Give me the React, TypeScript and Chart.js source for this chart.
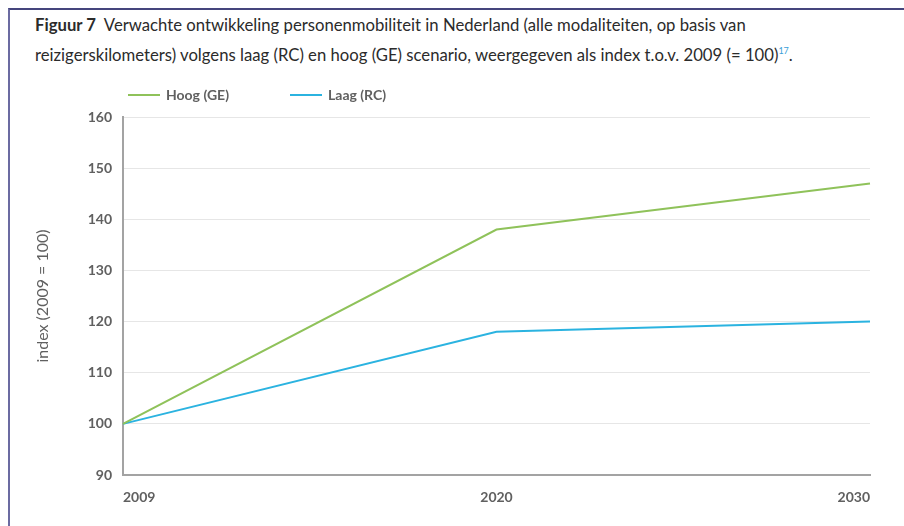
import React, { useEffect, useRef } from 'react';
import { Chart, registerables } from 'chart.js';

Chart.register(...registerables);

const years = ['2009', '2020', '2030'];
const hoogGE = [100, 138, 147];
const laagRC = [100, 118, 120];
const seriesLabels = ['Hoog (GE)', 'Laag (RC)'];
const yMin = 90;
const yMax = 160;
const yStep = 10;
const yTitle = 'index (2009 = 100)';

const GREEN = '#8fc25a';
const BLUE = '#2bb3e0';
const FONT = 'Lato, "Open Sans", sans-serif';
const TEXT_GREY = '#606060';

const legendPlugin = {
  id: 'lineLegend',
  afterDraw(chart: any) {
    const ctx = chart.ctx;
    const y = 25;
    ctx.save();
    ctx.font = 'bold 14px ' + FONT;
    ctx.textBaseline = 'middle';
    ctx.textAlign = 'left';
    chart.data.datasets.forEach((ds: any, i: number) => {
      const x0 = chart.chartArea.left + 5 + i * 162;
      ctx.strokeStyle = ds.borderColor;
      ctx.lineWidth = 2;
      ctx.beginPath();
      ctx.moveTo(x0, y);
      ctx.lineTo(x0 + 32, y);
      ctx.stroke();
      ctx.fillStyle = TEXT_GREY;
      ctx.fillText(ds.label, x0 + 38, y);
    });
    ctx.restore();
  },
};

export default function App() {
  const ref = useRef<HTMLCanvasElement>(null);

  useEffect(() => {
    if (!ref.current) return;
    const chart = new Chart(ref.current, {
      type: 'line',
      data: {
        labels: years,
        datasets: [
          {
            label: seriesLabels[0],
            data: hoogGE,
            borderColor: GREEN,
            backgroundColor: GREEN,
            borderWidth: 2,
            pointRadius: 0,
            tension: 0,
          },
          {
            label: seriesLabels[1],
            data: laagRC,
            borderColor: BLUE,
            backgroundColor: BLUE,
            borderWidth: 2,
            pointRadius: 0,
            tension: 0,
          },
        ],
      },
      options: {
        responsive: false,
        animation: false,
        layout: { padding: { left: 20, top: 47, right: 34, bottom: 0 } },
        plugins: {
          legend: { display: false },
          tooltip: { enabled: false },
          title: { display: false },
        },
        scales: {
          x: {
            type: 'category',
            offset: false,
            grid: { display: false, drawTicks: false },
            border: { display: true, color: '#a3a3a3', width: 2 },
            ticks: {
              align: 'inner',
              padding: 14,
              color: TEXT_GREY,
              font: { family: FONT, size: 14, weight: 'bold' },
              maxRotation: 0,
            },
            afterFit: (s: any) => {
              s.height = 51;
            },
          },
          y: {
            min: yMin,
            max: yMax,
            grid: { color: '#e6e6e6', lineWidth: 1, drawTicks: false },
            border: { display: true, color: '#a3a3a3', width: 2 },
            ticks: {
              stepSize: yStep,
              padding: 11,
              color: TEXT_GREY,
              font: { family: FONT, size: 14, weight: 'bold' },
            },
            title: {
              display: true,
              text: yTitle,
              color: TEXT_GREY,
              font: { family: FONT, size: 16 },
              padding: { top: 3, bottom: 4 },
            },
            afterFit: (s: any) => {
              s.width = 93;
            },
          },
        },
      },
      plugins: [legendPlugin],
    });
    return () => chart.destroy();
  }, []);

  return (
    <div
      style={{
        position: 'absolute',
        left: 0,
        top: 0,
        width: 904,
        height: 526,
        overflow: 'hidden',
        background: '#fff',
      }}
    >
      <div
        style={{
          position: 'absolute',
          left: 8,
          top: 8,
          width: 900,
          height: 530,
          borderTop: '2px solid #45457d',
          borderLeft: '2px solid #6b6ba1',
        }}
      />
      <div
        style={{
          position: 'absolute',
          left: 35,
          top: 13,
          fontFamily: FONT,
          fontSize: 16.7,
          lineHeight: '25px',
          color: '#2b2b2b',
          whiteSpace: 'nowrap',
        }}
      >
        <div>
          <b>Figuur 7</b>&nbsp; Verwachte ontwikkeling personenmobiliteit in Nederland (alle modaliteiten, op basis van
        </div>
        <div>
          reizigerskilometers) volgens laag (RC) en hoog (GE) scenario, weergegeven als index t.o.v. 2009 (= 100)
          <sup style={{ color: '#3a9fd8', fontSize: 9 }}>17</sup>.
        </div>
      </div>
      <canvas
        ref={ref}
        width={894}
        height={456}
        style={{ position: 'absolute', left: 10, top: 70, width: 894, height: 456 }}
      />
    </div>
  );
}
